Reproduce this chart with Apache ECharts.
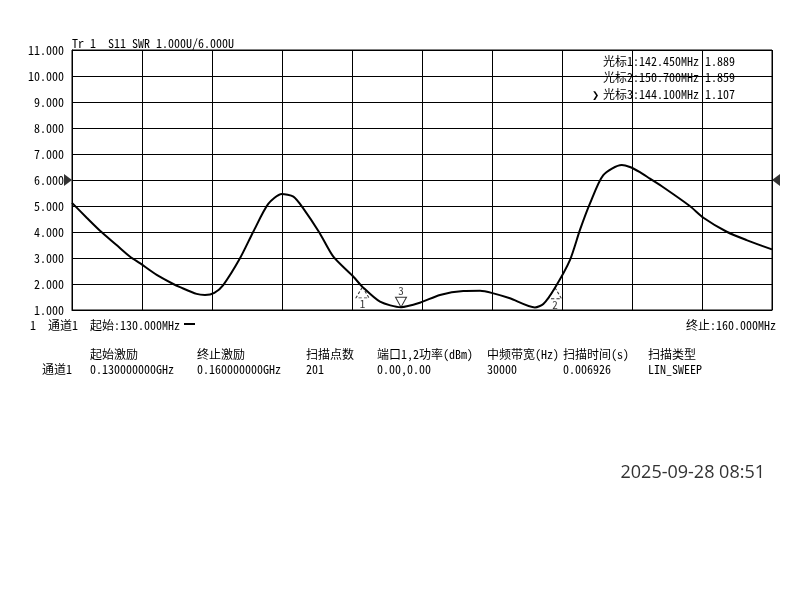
<!DOCTYPE html>
<html>
<head>
<meta charset="utf-8">
<script src="https://cdn.jsdelivr.net/npm/echarts@6/dist/echarts.min.js"></script>
<style>
  html, body { margin: 0; padding: 0; background: #fff; }
  #chart { width: 800px; height: 600px; }
</style>
</head>
<body>
<div id="chart"></div>
<script>
// 扫描频率 (MHz) 和 SWR 读数
const freqMHz = [130.00, 130.63, 131.20, 131.91, 132.49, 132.91, 133.63, 134.34, 134.63, 135.34,
  135.70, 136.10, 136.48, 137.20, 137.77, 138.41, 138.99, 139.49, 139.91, 140.60, 141.20,
  142.06, 142.45, 143.20, 144.10, 144.91, 145.77, 146.77, 147.49, 148.06, 148.77,
  149.84, 150.20, 150.70, 151.34, 151.77, 152.20, 152.77, 153.56, 153.91, 154.34,
  154.77, 155.34, 156.49, 157.06, 158.06, 158.91, 160.00];
const swr = [5.12, 4.55, 4.05, 3.50, 3.05, 2.80, 2.35, 2.00, 1.88, 1.62,
  1.58, 1.66, 1.96, 2.99, 4.01, 5.08, 5.46, 5.36, 4.91, 3.98, 3.05,
  2.28, 1.889, 1.32, 1.107, 1.28, 1.58, 1.73, 1.74, 1.64, 1.45,
  1.10, 1.23, 1.859, 2.92, 4.08, 5.10, 6.19, 6.58, 6.50, 6.30,
  6.05, 5.72, 4.99, 4.55, 4.01, 3.69, 3.33];

// 光标
const markerNames = ['1', '2', '3'];
const markerFreq = [142.45, 150.70, 144.10];
const markerSwr = [1.889, 1.859, 1.107];

// 坐标轴
const xStart = 130, xStop = 160, xStep = 3;
const yMin = 1, yMax = 11, yStep = 1;
const refLevel = 6;

const FONT = "'Noto Sans Mono CJK SC','DejaVu Sans Mono','Noto Sans CJK SC',monospace";

const chart = echarts.init(document.getElementById('chart'));

const traceData = freqMHz.map((f, i) => [f, swr[i]]);

const markerData = markerFreq.map((f, i) => {
  const active = i === 2;
  return {
    value: [f, markerSwr[i]],
    symbol: active ? 'path://M0,0 L10,0 L5,10 Z' : 'path://M5,0 L10,10 L0,10 Z',
    symbolSize: active ? [11, 10] : [13, 11],
    symbolOffset: [0, active ? -5 : 5.5],
    itemStyle: {
      color: 'rgba(0,0,0,0)', borderColor: '#000', borderWidth: 1,
      borderType: active ? 'solid' : [3, 2]
    },
    label: {
      show: true, formatter: markerNames[i], position: active ? 'top' : 'bottom',
      distance: 0, color: '#000', fontSize: 11, fontFamily: FONT
    }
  };
});

const refData = [
  { value: [xStart, refLevel], symbol: 'path://M0,0 L10,5 L0,10 Z', symbolOffset: [-4, 0] },
  { value: [xStop, refLevel], symbol: 'path://M10,0 L0,5 L10,10 Z', symbolOffset: [4, 0] }
];

function txt(text, x, y, align) {
  return {
    type: 'text', x: x, y: y, silent: true,
    style: { text: text, font: '12px ' + FONT, fill: '#000', align: align || 'left', verticalAlign: 'middle' }
  };
}

// 底部参数表
const headRow = ['起始激励', '终止激励', '扫描点数', '端口1,2功率(dBm)', '中频带宽(Hz)', '扫描时间(s)', '扫描类型'];
const valueRow = ['0.130000000GHz', '0.160000000GHz', '201', '0.00,0.00', '30000', '0.006926', 'LIN_SWEEP'];
const colX = [90, 197, 306, 377, 487, 563, 648];

const graphics = [
  txt('Tr 1  S11 SWR 1.000U/6.000U', 72, 43),
  txt('光标1:142.450MHz 1.889', 603, 61),
  txt('光标2:150.700MHz 1.859', 603, 77.5),
  txt('光标3:144.100MHz 1.107', 603, 94),
  txt('❯', 592, 94),
  txt('1', 30, 325),
  txt('通道1', 48, 325),
  txt('起始:130.000MHz', 90, 325),
  { type: 'rect', shape: { x: 184, y: 323, width: 11, height: 2 }, style: { fill: '#000' } },
  txt('终止:160.000MHz', 776, 325, 'right'),
  txt('通道1', 42, 369),
  {
    type: 'text', x: 765, y: 473,
    style: { text: '2025-09-28 08:51', font: '18px "Open Sans", "Noto Sans", sans-serif', fill: '#333', align: 'right', verticalAlign: 'middle' }
  }
];
headRow.forEach((t, i) => graphics.push(txt(t, colX[i], 354)));
valueRow.forEach((t, i) => graphics.push(txt(t, colX[i], 369)));

chart.setOption({
  animation: false,
  backgroundColor: '#fff',
  grid: { left: 72, right: 28, top: 50, bottom: 290, show: true, borderColor: '#000', borderWidth: 1 },
  xAxis: {
    type: 'value', min: xStart, max: xStop, interval: xStep,
    axisLine: { show: true, lineStyle: { color: '#000' } },
    axisTick: { show: false },
    axisLabel: { show: false },
    splitLine: { show: true, lineStyle: { color: '#000', width: 1 } }
  },
  yAxis: {
    type: 'value', min: yMin, max: yMax, interval: yStep,
    axisLine: { show: true, lineStyle: { color: '#000' } },
    axisTick: { show: false },
    axisLabel: {
      color: '#000', fontSize: 12, fontFamily: FONT, margin: 8,
      formatter: v => v.toFixed(3)
    },
    splitLine: { show: true, lineStyle: { color: '#000', width: 1 } }
  },
  series: [
    {
      name: 'S11', type: 'line', data: traceData, showSymbol: false, smooth: 0.25,
      lineStyle: { color: '#000', width: 2 }, z: 3
    },
    {
      name: 'markers', type: 'scatter', data: markerData, clip: false, z: 4
    },
    {
      name: 'ref', type: 'scatter', data: refData, symbolSize: [8, 12], clip: false,
      itemStyle: { color: '#000' }, z: 4
    }
  ],
  graphic: graphics
});
</script>
</body>
</html>
